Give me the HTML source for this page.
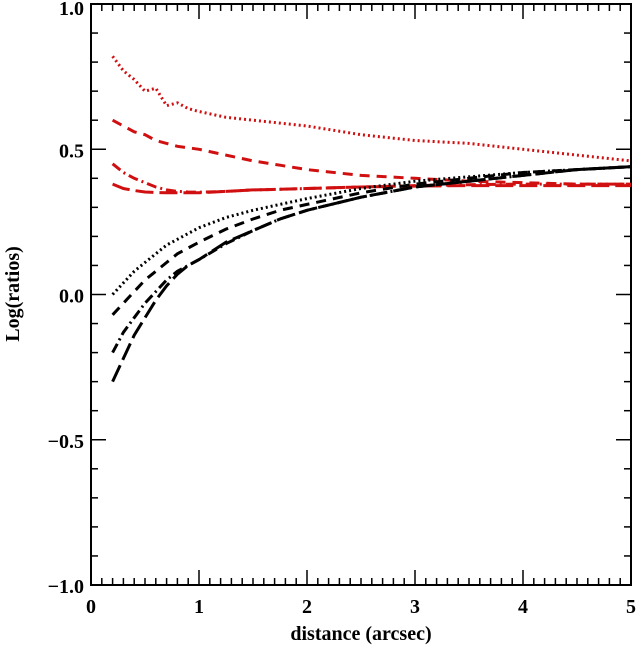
<!DOCTYPE html>
<html><head><meta charset="utf-8"><style>
body{margin:0;background:#fff}
svg text{font-family:"Liberation Serif",serif;font-size:20px;font-weight:bold;fill:#000}
</style></head><body>
<svg id="chart" width="638" height="645" xmlns="http://www.w3.org/2000/svg">
<g id="axes"></g>
<g id="series"></g>
<text x="361" y="640" text-anchor="middle">distance (arcsec)</text>
<text transform="translate(19,294) rotate(-90)" text-anchor="middle">Log(ratios)</text>
</svg>
<script>
const xs = [0.2,0.3,0.4,0.5,0.6,0.7,0.8,0.9,1.0,1.25,1.5,1.75,2.0,2.5,3.0,3.5,4.0,4.5,5.0];
const redDotted = [0.82,0.77,0.74,0.70,0.71,0.65,0.66,0.64,0.63,0.61,0.60,0.59,0.58,0.55,0.53,0.52,0.50,0.48,0.46];
const redDashed = [0.60,0.58,0.56,0.55,0.53,0.52,0.51,0.505,0.50,0.48,0.46,0.445,0.43,0.41,0.40,0.39,0.385,0.38,0.38];
const redDashDot = [0.45,0.42,0.40,0.385,0.37,0.36,0.355,0.353,0.352,0.355,0.36,0.362,0.365,0.37,0.375,0.378,0.38,0.38,0.38];
const redLongDash = [0.38,0.365,0.358,0.353,0.351,0.35,0.35,0.35,0.35,0.355,0.36,0.362,0.365,0.37,0.373,0.375,0.375,0.375,0.375];
const blackDotted = [0.0,0.04,0.08,0.11,0.14,0.17,0.19,0.21,0.23,0.265,0.29,0.31,0.33,0.365,0.39,0.405,0.42,0.43,0.44];
const blackDashed = [-0.07,-0.03,0.01,0.05,0.08,0.11,0.14,0.16,0.18,0.225,0.26,0.29,0.31,0.35,0.38,0.40,0.42,0.43,0.44];
const blackDashDot = [-0.2,-0.13,-0.08,-0.03,0.01,0.05,0.08,0.10,0.12,0.175,0.22,0.26,0.29,0.335,0.37,0.39,0.41,0.43,0.44];
const blackLongDash = [-0.3,-0.22,-0.14,-0.08,-0.02,0.03,0.07,0.10,0.12,0.18,0.22,0.26,0.29,0.335,0.37,0.39,0.41,0.43,0.44];
const xTicks = [0,1,2,3,4,5];
const yTicks = [-1.0,-0.5,0.0,0.5,1.0];

const L=91,R=631,T=4,B=585;
const sx=v=>L+(v-0)/5*(R-L);
const sy=v=>B-(v+1)/2*(B-T);
const NS="http://www.w3.org/2000/svg";
const axes=document.getElementById('axes');
function ln(x1,y1,x2,y2,w,name){
  const e=document.createElementNS(NS,'line');
  e.setAttribute('x1',x1);e.setAttribute('y1',y1);e.setAttribute('x2',x2);e.setAttribute('y2',y2);
  e.setAttribute('stroke','#000');e.setAttribute('stroke-width',w);
  
  
  axes.appendChild(e);
}
const fr=document.createElementNS(NS,'rect');
fr.setAttribute('x',L);fr.setAttribute('y',T);fr.setAttribute('width',R-L);fr.setAttribute('height',B-T);
fr.setAttribute('fill','none');fr.setAttribute('stroke','#000');fr.setAttribute('stroke-width',2);


axes.appendChild(fr);
for(let i=0;i<=50;i++){
  const v=i*0.1, x=sx(v), len=(i%10==0)?15:7;
  ln(x,B,x,B-len,1.5,'x-tick');ln(x,T,x,T+len,1.5,'x-tick');
}
for(let i=0;i<=20;i++){
  const v=-1+i*0.1, y=sy(v), len=(i%5==0)?15:7;
  ln(L,y,L+len,y,1.5,'y-tick');ln(R,y,R-len,y,1.5,'y-tick');
}
xTicks.forEach(v=>{
  const t=document.createElementNS(NS,'text');
  t.setAttribute('x',sx(v));t.setAttribute('y',613);t.setAttribute('text-anchor','middle');
  t.textContent=String(v);
  
  
  axes.appendChild(t);
});
yTicks.forEach(v=>{
  const t=document.createElementNS(NS,'text');
  t.setAttribute('x',84);t.setAttribute('y',Math.max(sy(v)+8,15));t.setAttribute('text-anchor','end');
  t.textContent=(v<0?'\u2212':'')+Math.abs(v).toFixed(1);
  
  
  axes.appendChild(t);
});
const ser=document.getElementById('series');
function draw(vals,color,dash,name){
  const p=document.createElementNS(NS,'path');
  p.setAttribute('d',vals.map((v,i)=>(i?'L':'M')+sx(xs[i]).toFixed(1)+','+sy(v).toFixed(1)).join(' '));
  p.setAttribute('fill','none');p.setAttribute('stroke',color);p.setAttribute('stroke-width',3);
  p.setAttribute('stroke-dasharray',dash);
  
  
  ser.appendChild(p);
}
const RED='#d01010';
draw(redDotted,RED,'2 3','red-dotted-line');
draw(redDashed,RED,'10 7','red-dashed-line');
draw(redDashDot,RED,'10 4 2 4','red-dash-dot-line');
draw(redLongDash,RED,'18 6','red-long-dash-line');
draw(blackDotted,'#000','2 3','black-dotted-line');
draw(blackDashed,'#000','10 7','black-dashed-line');
draw(blackDashDot,'#000','10 4 2 4','black-dash-dot-line');
draw(blackLongDash,'#000','18 6','black-long-dash-line');
</script>
</body></html>
